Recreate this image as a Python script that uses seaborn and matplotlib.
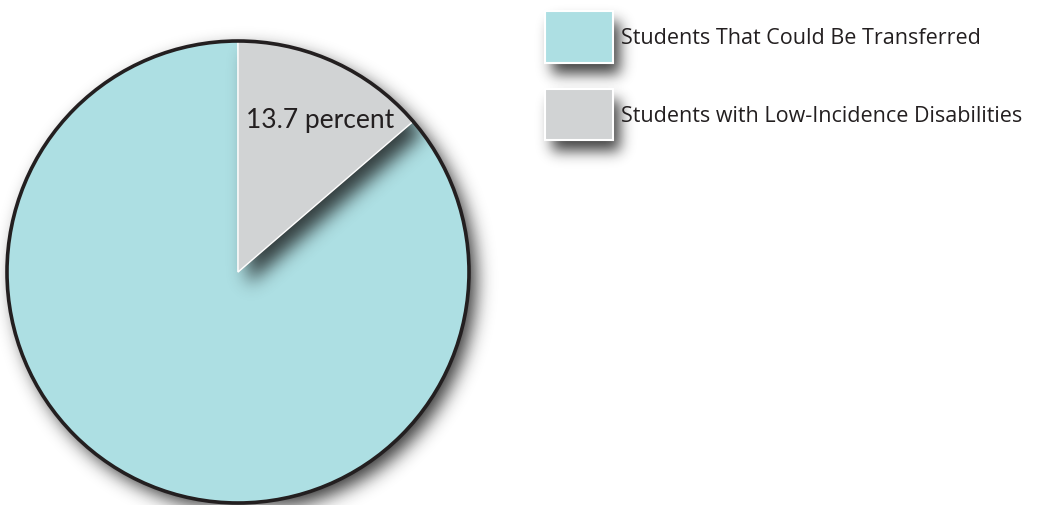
import matplotlib
matplotlib.use("Agg")
import numpy as np
import matplotlib.pyplot as plt
from matplotlib.patches import Patch, Circle
from matplotlib.path import Path
import seaborn as sns

# data
categories = ["Students with Low-Incidence Disabilities", "Students That Could Be Transferred"]
percent = [13.7, 86.3]
colors = ["#D1D3D4", "#ADDFE3"]
legend_order = [1, 0]

sns.set_style("white")
plt.rcParams["font.family"] = ["Open Sans", "DejaVu Sans"]

W, H = 1040, 506
fig = plt.figure(figsize=(W / 100, H / 100), dpi=100)
ax = fig.add_axes([0, 0, 1, 1])

center = (238, 233)
radius = 231

# pixel grid (data units == pixels here)
xx, yy = np.meshgrid(np.arange(W) + 0.5, H - (np.arange(H) + 0.5))
pts = np.column_stack([xx.ravel(), yy.ravel()])


def gaussian_blur(img, sigma):
    r = int(3 * sigma)
    k = np.exp(-0.5 * (np.arange(-r, r + 1) / sigma) ** 2)
    k /= k.sum()
    img = np.apply_along_axis(lambda v: np.convolve(v, k, mode="same"), 1, img)
    img = np.apply_along_axis(lambda v: np.convolve(v, k, mode="same"), 0, img)
    return img


def shadow_image(path, dx, dy, sigma, alpha, zorder, clip=None):
    # soft drop shadow: shift the shape right/down, blur, draw as image
    mask = path.contains_points(pts - [dx, -dy]).reshape(H, W).astype(float)
    mask = gaussian_blur(mask, sigma)
    rgba = np.zeros((H, W, 4))
    rgba[..., :3] = 0.08
    rgba[..., 3] = mask * alpha
    im = ax.imshow(rgba, extent=(0, W, 0, H), origin="upper", zorder=zorder,
                   interpolation="bilinear")
    if clip is not None:
        im.set_clip_path(clip)
    return im


disc = Circle(center, radius, facecolor=colors[1], edgecolor="none", zorder=1)
ax.add_patch(disc)

wedges, texts, autotexts = ax.pie(
    percent, colors=colors, startangle=90, counterclock=False,
    center=center, radius=radius,
    wedgeprops=dict(edgecolor="white", linewidth=1.0),
    autopct=lambda p: f"{p:.1f} percent" if p < 50 else "",
    textprops=dict(fontsize=19, color="#231F20", family=["Lato", "DejaVu Sans"]),
)
wedges[1].set_zorder(2)
wedges[0].set_zorder(3)

# label position inside the small slice
w = wedges[0]
ang = np.deg2rad(w.theta1 + 0.43 * (w.theta2 - w.theta1))
autotexts[0].set_position((center[0] + 0.75 * radius * np.cos(ang),
                           center[1] + 0.75 * radius * np.sin(ang)))
autotexts[0].set_zorder(6)

outline = Circle(center, radius, fill=False, edgecolor="#231F20", linewidth=2.6, zorder=4)
ax.add_patch(outline)

ax.set_xlim(0, W)
ax.set_ylim(0, H)
ax.set_aspect("equal")
ax.axis("off")

# shadows
circle_path = Path.circle(center, radius)
shadow_image(circle_path, 7, 8, 9, 0.85, 0.5)
shadow_image(wedges[0].get_path(), 10, 12, 9, 0.8, 2.5, clip=disc)

handles = [Patch(facecolor=colors[i], edgecolor="white", linewidth=1.5) for i in legend_order]
labels = [categories[i] for i in legend_order]
leg = ax.legend(handles, labels, loc="upper left", bbox_to_anchor=(545 / W, 1 - 12 / H),
                bbox_transform=fig.transFigure, frameon=False, fontsize=15.5,
                handlelength=3.15, handleheight=3.32, handletextpad=0.36,
                labelspacing=1.2, borderpad=0, borderaxespad=0, labelcolor="#231F20")
leg.set_zorder(5)

fig.canvas.draw()
for h in leg.legend_handles:
    bb = h.get_window_extent()
    box = Path([(bb.x0, bb.y0), (bb.x1, bb.y0), (bb.x1, bb.y1), (bb.x0, bb.y1), (bb.x0, bb.y0)])
    shadow_image(box, 7, 11, 7, 0.8, 4.5)

fig.savefig("out.png", dpi=100, facecolor="white")
